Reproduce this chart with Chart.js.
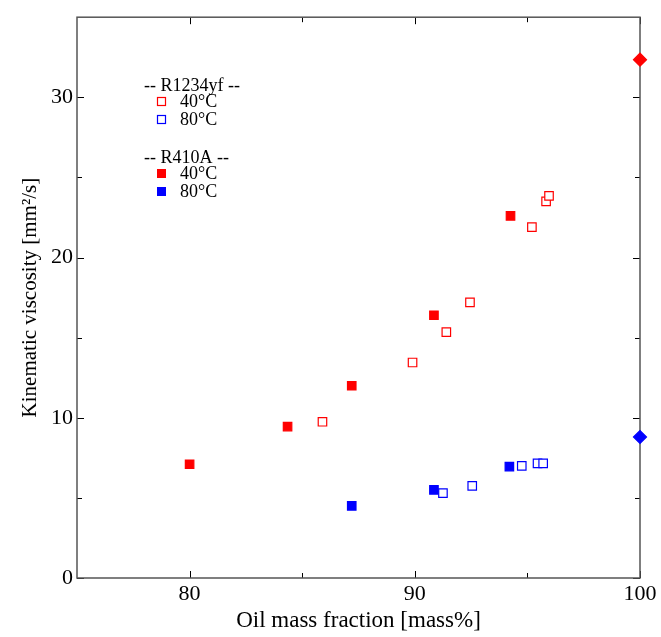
<!DOCTYPE html>
<html>
<head>
<meta charset="utf-8">
<script src="https://cdn.jsdelivr.net/npm/chart.js@4.4.0/dist/chart.umd.min.js"></script>
<style>
  html, body { margin: 0; padding: 0; background: #fff; }
  #wrap { width: 661px; height: 637px; }
</style>
</head>
<body>
<div id="wrap"><canvas id="myChart" width="661" height="637"></canvas></div>
<script>
// R1234yf / oil mixtures
const yf40Frac = [85.9, 89.9, 91.4, 92.45, 95.2, 95.83, 95.96];
const yf40Visc = [9.75, 13.45, 15.35, 17.2, 21.9, 23.5, 23.85];
const yf80Frac = [91.25, 92.55, 94.75, 95.45, 95.7];
const yf80Visc = [5.3, 5.75, 7.0, 7.15, 7.15];

// R410A / oil mixtures
const a40Frac = [80.0, 84.35, 87.2, 90.85, 94.25];
const a40Visc = [7.1, 9.45, 12.0, 16.4, 22.6];
const a80Frac = [87.2, 90.85, 94.2];
const a80Visc = [4.5, 5.5, 6.95];

// pure oil
const oilFrac = [100];
const oil40Visc = [32.35];
const oil80Visc = [8.8];

const xTicks = [80, 90, 100];
const xMinor = [85, 95];
const yTicks = [0, 10, 20, 30];
const yMinor = [5, 15, 25];

const RED = '#ff0000';
const BLUE = '#0000ff';
const SERIF = "'Liberation Serif', 'DejaVu Serif', serif";

function pts(xs, ys) {
  return xs.map((x, i) => ({ x: x, y: ys[i] }));
}

function series(xs, ys, color, filled, style, radius) {
  return {
    data: pts(xs, ys),
    pointStyle: style || 'rect',
    pointRadius: radius || 6,
    pointBorderWidth: 1.2,
    borderColor: color,
    backgroundColor: filled ? color : '#fff',
    showLine: false,
    clip: false
  };
}

// box around the plot with inward ticks on every side
const frame = {
  id: 'frame',
  beforeDatasetsDraw(chart) {
    const ctx = chart.ctx;
    const a = chart.chartArea;
    const xs = chart.scales.x, ys = chart.scales.y;
    ctx.save();
    ctx.strokeStyle = '#000';
    ctx.lineWidth = 1;
    ctx.beginPath();
    const tx = (v, len) => {
      const p = Math.round(xs.getPixelForValue(v)) + 0.5;
      ctx.moveTo(p, a.bottom); ctx.lineTo(p, a.bottom - len);
      ctx.moveTo(p, a.top); ctx.lineTo(p, a.top + len);
    };
    const ty = (v, len) => {
      const p = Math.round(ys.getPixelForValue(v)) + 0.5;
      ctx.moveTo(a.left, p); ctx.lineTo(a.left + len, p);
      ctx.moveTo(a.right, p); ctx.lineTo(a.right - len, p);
    };
    xTicks.forEach(v => tx(v, 7));
    xMinor.forEach(v => tx(v, 5));
    yTicks.forEach(v => ty(v, 7));
    yMinor.forEach(v => ty(v, 5));
    ctx.stroke();
    ctx.strokeStyle = '#555';
    ctx.lineWidth = 1.5;
    ctx.strokeRect(a.left, a.top, a.right - a.left, a.bottom - a.top);
    ctx.restore();
  }
};

// grouped legend drawn inside the plot
const groupLegend = {
  id: 'groupLegend',
  afterDraw(chart) {
    const ctx = chart.ctx;
    ctx.save();
    ctx.font = '18px ' + SERIF;
    ctx.fillStyle = '#000';
    ctx.textBaseline = 'middle';
    ctx.textAlign = 'left';
    const rows = [
      { text: '-- R1234yf --', y: 85 },
      { text: '40°C', y: 101, color: RED, filled: false },
      { text: '80°C', y: 119, color: BLUE, filled: false },
      { text: '-- R410A --', y: 157 },
      { text: '40°C', y: 173, color: RED, filled: true },
      { text: '80°C', y: 191, color: BLUE, filled: true }
    ];
    rows.forEach(r => {
      if (!r.color) {
        ctx.fillStyle = '#000';
        ctx.fillText(r.text, 144, r.y + 1);
        return;
      }
      if (r.filled) {
        ctx.fillStyle = r.color;
        ctx.fillRect(157, r.y - 4, 9, 9);
      } else {
        ctx.strokeStyle = r.color;
        ctx.lineWidth = 1.2;
        ctx.strokeRect(157.5, r.y - 3.5, 8, 8);
      }
      ctx.fillStyle = '#000';
      ctx.fillText(r.text, 180, r.y + 1);
    });
    ctx.restore();
  }
};

new Chart(document.getElementById('myChart'), {
  type: 'scatter',
  data: {
    datasets: [
      series(yf40Frac, yf40Visc, RED, false),
      series(yf80Frac, yf80Visc, BLUE, false),
      series(a40Frac, a40Visc, RED, true),
      series(a80Frac, a80Visc, BLUE, true),
      series(oilFrac, oil40Visc, RED, true, 'rectRot', 6.5),
      series(oilFrac, oil80Visc, BLUE, true, 'rectRot', 6.5)
    ]
  },
  options: {
    responsive: false,
    animation: false,
    devicePixelRatio: 1,
    layout: { padding: { top: 14, right: 21, left: 0, bottom: 0 } },
    plugins: {
      legend: { display: false },
      tooltip: { enabled: false }
    },
    scales: {
      x: {
        type: 'linear',
        min: 75,
        max: 100,
        afterBuildTicks: s => { s.ticks = xTicks.map(v => ({ value: v })); },
        afterFit: s => { s.height = 59; },
        grid: { display: false, drawTicks: false },
        border: { display: false },
        ticks: {
          color: '#000',
          font: { family: SERIF, size: 22 },
          padding: 3,
          maxRotation: 0
        },
        title: {
          display: true,
          text: 'Oil mass fraction [mass%]',
          color: '#000',
          font: { family: SERIF, size: 23 },
          padding: { top: 0, bottom: 2 }
        }
      },
      y: {
        type: 'linear',
        min: 0,
        max: 35,
        afterBuildTicks: s => { s.ticks = yTicks.map(v => ({ value: v })); },
        afterFit: s => { s.width = 77; },
        grid: { display: false, drawTicks: false },
        border: { display: false },
        ticks: {
          color: '#000',
          font: { family: SERIF, size: 22 },
          padding: 4
        },
        title: {
          display: true,
          text: 'Kinematic viscosity [mm²/s]',
          color: '#000',
          font: { family: SERIF, size: 21 },
          padding: { top: 18, bottom: 0 }
        }
      }
    }
  },
  plugins: [frame, groupLegend]
});
</script>
</body>
</html>
